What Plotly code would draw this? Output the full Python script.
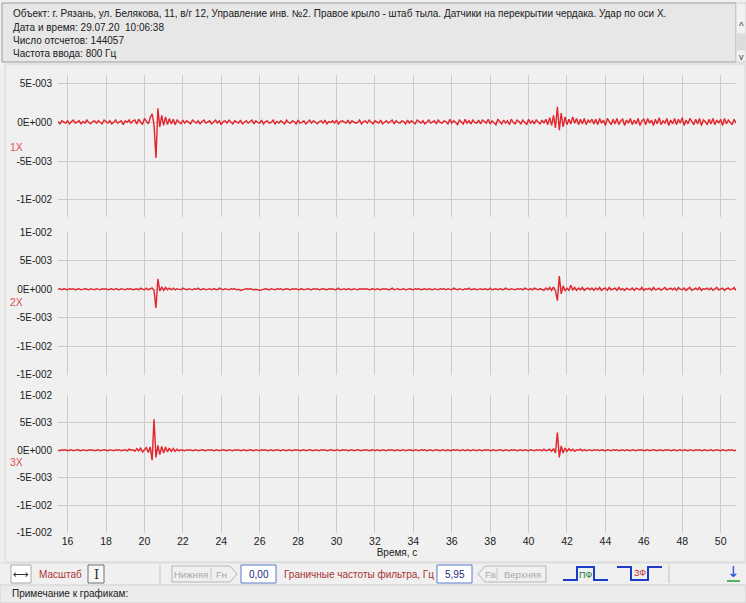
import numpy as np
import plotly.graph_objects as go

# ---------------- data ----------------
T_START = 15.5   # s
DT = 0.1         # s
UNIT = 1e-4      # values below are in units of 1e-4

S1X = [
 1,-2,2,0,-1,2,-2,1,3,-1,0,2,-2,1,-1,3,0,-2,1,2,
 -1,2,0,-2,3,1,-1,2,-2,0,3,-1,1,2,-3,2,0,3,-1,2,
 3,-2,4,1,-3,5,2,-2,6,11,-3,-46,18,-6,9,-4,7,-3,5,-2,
 4,-3,3,1,-2,3,-1,2,0,-2,3,1,-1,2,-2,1,3,-1,0,2,
 -2,1,3,-1,2,-3,1,2,-1,3,0,-2,2,1,-1,3,-2,0,2,-1,
 1,3,-2,2,0,-1,3,-2,1,2,-1,0,3,-2,1,-1,2,0,-2,3,
 0,-1,2,1,-2,3,-1,0,2,-2,1,3,-1,2,0,-2,1,2,-1,3,
 -2,1,0,2,-1,3,-2,1,2,0,-1,3,-2,2,1,-1,0,3,-2,1,
 2,-1,3,0,-2,2,1,-1,3,-2,0,2,-1,1,3,-2,2,0,-1,2,
 1,-2,3,-1,2,0,-2,3,1,-1,2,-2,0,3,-1,1,2,-2,3,0,
 -1,2,1,-2,4,-1,2,0,-3,3,1,-2,4,-1,2,-2,3,0,-1,3,
 -2,3,1,-1,4,-2,2,0,-3,4,1,-2,3,-1,2,-3,4,0,-2,3,
 1,-2,3,0,-3,4,-1,2,-2,3,0,-2,3,-1,4,-3,6,-4,9,-7,
 20,-10,12,-6,7,-3,4,-2,7,-1,5,-3,4,-2,5,-3,3,0,4,-2,
 4,-3,5,-1,3,-4,5,0,-3,4,-2,5,-3,2,4,-4,3,-1,5,-3,
 3,-2,5,-4,2,4,-3,5,-1,3,-4,4,-2,6,-3,2,-1,5,-4,3,
 -2,5,-3,4,-1,6,-4,3,-2,5,0,-3,4,-2,5,-4,3,1,-3,4,
 -2,5,-3,3,-1,4,-4,5,-2,3,0,-3,4,-1,
]

S2X = [
 0,1,-1,1,0,-1,1,0,1,-1,0,1,-1,0,1,0,-1,1,0,-1,
 1,0,-1,1,0,1,-1,0,1,-1,1,0,-1,1,0,-1,1,0,1,-1,
 0,1,-1,2,0,-1,2,-1,1,2,-2,-33,18,-3,4,-2,3,-1,2,-1,
 2,-1,1,0,-1,2,0,-1,1,0,-1,1,0,2,-1,0,1,-1,0,1,
 -1,1,0,-1,2,0,-1,1,0,-1,1,0,1,-1,0,-2,-1,0,1,0,
 1,0,-1,0,-1,-2,-1,0,1,0,-1,1,0,-1,1,0,1,-1,0,1,
 0,-1,1,0,1,-1,0,1,-1,0,1,0,-1,1,0,1,-1,0,1,0,
 -1,1,0,1,-1,0,2,-1,0,1,-1,1,0,-1,1,0,-1,1,0,1,
 0,1,-1,0,1,-1,1,0,-1,1,0,1,-1,0,2,-1,0,1,-1,0,
 1,-1,0,1,0,-1,1,0,1,-1,0,1,-1,1,0,-1,1,0,-1,1,
 0,1,-1,1,0,-1,2,0,-1,1,0,-1,1,0,2,-1,0,1,-1,0,
 1,-1,1,0,-1,2,-1,0,1,-1,1,0,-1,2,0,-1,1,0,-1,1,
 0,1,-1,2,0,-1,1,-1,2,0,-1,1,0,-2,2,-1,3,-2,4,-3,
 -20,23,-8,6,-3,2,-2,7,-1,3,-2,2,-1,3,-2,1,2,-1,2,-2,
 2,-1,3,-2,1,2,-2,3,-1,0,2,-2,3,-1,1,-2,2,0,-1,2,
 -2,2,1,-1,3,-2,1,0,2,-2,3,-1,0,2,-2,1,3,-1,0,2,
 -1,2,-2,3,0,-1,2,-2,1,3,-2,0,2,-1,3,-2,1,0,2,-1,
 2,-2,1,3,-1,0,2,-2,1,2,-1,0,3,-2,
]

S3X = [
 0,-1,1,0,1,-1,0,1,-1,0,1,0,-1,1,0,-1,1,0,1,-1,
 0,1,-1,0,1,0,-1,1,0,-1,1,0,1,-1,0,1,-1,2,0,1,
 -2,3,-1,4,-3,2,5,-4,6,-18,56,-13,9,-8,7,-5,6,-3,4,-2,
 3,-2,2,-1,1,0,-1,1,0,1,-1,0,1,-1,0,1,0,-1,1,0,
 1,-1,0,1,-1,0,1,0,-1,1,0,-1,1,0,1,-1,0,1,-1,0,
 1,0,-1,1,0,-1,1,0,1,-1,0,1,-1,0,1,0,-1,1,0,-1,
 1,0,-1,1,0,1,-1,0,1,-1,0,1,0,-1,1,0,-1,1,0,1,
 -1,0,1,0,-1,1,0,-1,1,0,1,-1,0,1,-1,0,1,0,-1,1,
 0,1,-1,0,1,-1,1,0,-1,1,0,-1,1,0,1,-1,0,1,-1,0,
 1,-1,0,1,0,-1,1,0,-1,1,0,1,-1,0,1,-1,0,1,0,-1,
 1,0,-1,1,-1,0,1,0,1,-1,0,1,-1,1,0,-1,1,0,-1,1,
 0,-1,1,0,1,-1,0,1,-1,0,1,0,-1,1,0,-1,1,0,1,-1,
 0,1,-1,1,0,-1,1,0,-1,1,0,1,-1,2,-1,0,2,-2,3,-5,
 32,-13,8,-5,4,-2,3,-1,2,-2,1,0,2,-1,1,-1,0,1,-1,1,
 0,1,-1,1,0,-1,1,0,-1,1,0,1,-1,0,1,-1,1,0,-1,1,
 0,-1,1,0,1,-1,0,1,-1,0,1,0,-1,1,0,-1,1,0,1,-1,
 0,1,-1,0,1,-1,1,0,-1,1,0,-1,1,0,1,-1,0,1,-1,0,
 1,-1,0,1,0,-1,1,0,-1,1,0,1,-1,0,
]

CHANNELS = ["1X", "2X", "3X"]
X_TICKS = list(range(16, 52, 2))
Y1_TICKS = [5e-3, 0, -5e-3, -1e-2]
Y1_TEXT = ["5E-003", "0E+000", "-5E-003", "-1E-002"]
Y23_TICKS = [1e-2, 5e-3, 0, -5e-3, -1e-2, -1.5e-2]
Y23_TEXT = ["1E-002", "5E-003", "0E+000", "-5E-003", "-1E-002", "-1E-002"]

HEADER = [
    "Объект: г. Рязань, ул. Белякова, 11, в/г 12, Управление инв. №2. Правое крыло - штаб тыла. Датчики на перекрытии чердака. Удар по оси Х.",
    "Дата и время: 29.07.20  10:06:38",
    "Число отсчетов: 144057",
    "Частота ввода: 800 Гц",
]

# ---------------- layout geometry ----------------
W, H = 746, 603
L, R = 58, 736          # plot area x in px
TOP, BOT = 75, 533      # plot area y in px
PW, PH = R - L, BOT - TOP

def px(x):
    return (x - L) / PW

def py(y):
    return (BOT - y) / PH

FONT = "Liberation Sans, Arial, sans-serif"
RED = "#e4232a"
GRID = "#cbcbcb"
BG = "#f0f0f0"

series = [S1X, S2X, S3X]
fig = go.Figure()
for i, s in enumerate(series):
    t = np.round(T_START + DT * np.arange(len(s)), 3)
    v = np.array(s, dtype=float) * UNIT
    sfx = "" if i == 0 else str(i + 1)
    fig.add_trace(go.Scatter(x=t, y=v, mode="lines", xaxis="x" + sfx, yaxis="y" + sfx,
                             line=dict(color=RED, width=1.4), showlegend=False,
                             hoverinfo="skip"))

domains = [
    [py(217), py(75)],
    [py(375), py(232)],
    [py(533), py(395)],
]
yranges = [[-0.0122, 0.0061], [-0.01503, 0.01003], [-0.01503, 0.01003]]

layout = dict(
    width=W, height=H,
    margin=dict(l=L, r=W - R, t=TOP, b=H - BOT),
    paper_bgcolor=BG, plot_bgcolor=BG,
    font=dict(family=FONT, size=10, color="#202020"),
    showlegend=False,
)
for i in range(3):
    sfx = "" if i == 0 else str(i + 1)
    xa = dict(domain=[0, 1], range=[15.5, 50.8], tickvals=X_TICKS,
              ticktext=[str(v) for v in X_TICKS], showgrid=True, gridcolor=GRID,
              gridwidth=1, zeroline=False, showline=False, ticks="",
              anchor="y" + sfx, showticklabels=(i == 2),
              tickfont=dict(family=FONT, size=10.5, color="#202020"))
    if i > 0:
        xa["matches"] = "x"
    if i == 2:
        xa["title"] = dict(text="Время, с", font=dict(family=FONT, size=10, color="#202020"),
                           standoff=2)
    ya = dict(domain=domains[i], range=yranges[i],
              tickvals=Y1_TICKS if i == 0 else Y23_TICKS,
              ticktext=Y1_TEXT if i == 0 else Y23_TEXT,
              showgrid=True, gridcolor=GRID, gridwidth=1, zeroline=False,
              showline=False, ticks="", anchor="x" + sfx, ticklabelstandoff=5,
              tickfont=dict(family=FONT, size=10, color="#202020"))
    layout["xaxis" + sfx] = xa
    layout["yaxis" + sfx] = ya

fig.update_layout(**layout)

shapes = []
ann = []

def rect(x0, y0, x1, y1, fill=None, line="#a0a0a0", lw=1):
    shapes.append(dict(type="rect", xref="paper", yref="paper",
                       x0=px(x0), x1=px(x1), y0=py(y1), y1=py(y0),
                       fillcolor=fill if fill else "rgba(0,0,0,0)",
                       line=dict(color=line, width=lw), layer="below"))

def seg(pts, color, lw=1, close=False):
    d = "M" + " L".join(f"{px(x)},{py(y)}" for x, y in pts)
    if close:
        d += " Z"
    shapes.append(dict(type="path", xref="paper", yref="paper", path=d,
                       line=dict(color=color, width=lw), layer="above"))

def text(x, y, s, size=10, color="#202020", anchor="left", family=FONT):
    ann.append(dict(x=px(x), y=py(y), xref="paper", yref="paper", text=s,
                    showarrow=False, xanchor=anchor, yanchor="middle",
                    font=dict(family=family, size=size, color=color)))

# header box
rect(2, 3, 736, 62, fill="#e7e7e7", line="#9c9c9c")
for k, line in enumerate(HEADER):
    text(11, 14 + k * 13.3, line, size=10)
# scrollbar
rect(736, 3, 746, 62, fill="#f2f2f2", line="#d0d0d0")
rect(737, 34, 745, 50, fill="#dcdcdc", line="#dcdcdc")
text(741, 27, "^", size=10, anchor="center", color="#404040")
text(741, 57, "v", size=9, anchor="center", color="#404040")

# chart panel border
rect(5, 64, 745, 562, line="#d6d6d6")

# channel labels
for lab, y in zip(CHANNELS, [147, 302, 462]):
    text(8, y, lab, size=10.5, color="#e05050")

# toolbar
seg([(0, 563), (746, 563)], "#d8d8d8")
rect(11, 565, 31, 583, fill="#ffffff", line="#a8a8a8")
text(21, 574, "⟷", size=11, anchor="center", color="#303030", family="DejaVu Sans")
text(37, 574, "Масштаб", size=10, color="#b03030")
rect(88, 565, 104, 583, fill="#f6f6f6", line="#707070")
text(96, 574, "I", size=13, anchor="center", color="#303030", family="DejaVu Serif")
seg([(160, 565), (160, 583)], "#c0c0c0")
seg([(172, 566), (230, 566), (237, 574), (230, 582), (172, 582)], "#b4b4b4", close=True)
seg([(211, 568), (211, 580)], "#c4c4c4")
text(191, 574, "Нижняя", size=9.5, anchor="center", color="#a8a8a8")
text(221, 574, "Fн", size=9.5, anchor="center", color="#a8a8a8")
rect(241, 565, 276, 583, fill="#ffffff", line="#5a78c8")
text(258.5, 574, "0,00", size=10, anchor="center", color="#1a2a80")
text(282, 574, "Граничные частоты фильтра, Гц", size=10, color="#a83030")
rect(437, 565, 472, 583, fill="#ffffff", line="#5a78c8")
text(454.5, 574, "5,95", size=10, anchor="center", color="#1a2a80")
seg([(485, 566), (546, 566), (546, 582), (485, 582), (478, 574)], "#b4b4b4", close=True)
seg([(497, 568), (497, 580)], "#c4c4c4")
text(490, 574, "Fв", size=9.5, anchor="center", color="#a8a8a8")
text(522, 574, "Верхняя", size=9.5, anchor="center", color="#a8a8a8")
seg([(563, 580), (577, 580), (577, 567), (594, 567), (594, 580), (608, 580)], "#1c3cc8", lw=2)
text(585.5, 575, "ПФ", size=9, anchor="center", color="#208030")
seg([(617, 567), (631, 567), (631, 580), (648, 580), (648, 567), (662, 567)], "#1c3cc8", lw=2)
text(639.5, 573, "ЗФ", size=9, anchor="center", color="#c83030")
seg([(669, 565), (669, 583)], "#c0c0c0")
text(733, 572, "↓", size=15, anchor="center", color="#1c4cd8", family="DejaVu Sans")
seg([(727, 581), (740, 581)], "#22a030", lw=1.5)

# status bar
rect(0, 585, 746, 603, fill="#ebebeb", line="#d0d0d0")
text(10, 593, "Примечание к графикам:", size=10)

fig.update_layout(shapes=shapes, annotations=ann)
fig.write_html("out.html")
